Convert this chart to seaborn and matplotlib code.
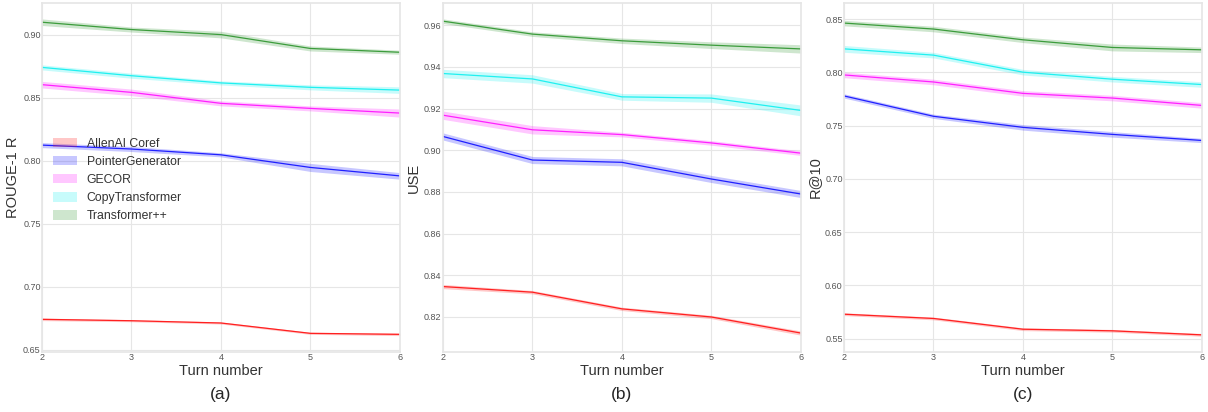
import numpy as np
import pandas as pd
import matplotlib
matplotlib.use("Agg")
import matplotlib.pyplot as plt
from matplotlib.patches import Patch
import seaborn as sns

# Données
turns = [2, 3, 4, 5, 6]
models = ["AllenAI Coref", "PointerGenerator", "GECOR", "CopyTransformer", "Transformer++"]
colors = ["#ff2020", "#2020ff", "#ff20ff", "#20f0f0", "#3c9c3c"]

# (a) ROUGE-1 R
rouge_allen = [0.6743, 0.6732, 0.6714, 0.6632, 0.6624]
rouge_pg = [0.8124, 0.8093, 0.8047, 0.7947, 0.7880]
rouge_gecor = [0.8603, 0.8542, 0.8455, 0.8415, 0.8378]
rouge_copy = [0.8740, 0.8674, 0.8617, 0.8582, 0.8560]
rouge_tpp = [0.9098, 0.9040, 0.9000, 0.8890, 0.8860]
rouge_err_allen = [0.0010, 0.0008, 0.0008, 0.0008, 0.0010]
rouge_err_pg = [0.0020, 0.0020, 0.0016, 0.0032, 0.0026]
rouge_err_gecor = [0.0026, 0.0026, 0.0020, 0.0020, 0.0032]
rouge_err_copy = [0.0020, 0.0020, 0.0016, 0.0020, 0.0026]
rouge_err_tpp = [0.0026, 0.0020, 0.0026, 0.0020, 0.0016]

# (b) USE
use_allen = [0.8346, 0.8319, 0.8239, 0.8200, 0.8123]
use_pg = [0.9066, 0.8953, 0.8942, 0.8862, 0.8790]
use_gecor = [0.9168, 0.9098, 0.9075, 0.9035, 0.8986]
use_copy = [0.9368, 0.9342, 0.9256, 0.9250, 0.9191]
use_tpp = [0.9619, 0.9557, 0.9525, 0.9504, 0.9486]
use_err_allen = [0.0010, 0.0008, 0.0008, 0.0008, 0.0010]
use_err_pg = [0.0017, 0.0017, 0.0017, 0.0017, 0.0017]
use_err_gecor = [0.0020, 0.0020, 0.0011, 0.0011, 0.0011]
use_err_copy = [0.0020, 0.0020, 0.0016, 0.0020, 0.0026]
use_err_tpp = [0.0011, 0.0011, 0.0013, 0.0016, 0.0020]

# (c) R@10
r10_allen = [0.5729, 0.5689, 0.5588, 0.5573, 0.5535]
r10_pg = [0.7778, 0.7587, 0.7483, 0.7417, 0.7360]
r10_gecor = [0.7975, 0.7909, 0.7802, 0.7758, 0.7689]
r10_copy = [0.8220, 0.8161, 0.8001, 0.7935, 0.7885]
r10_tpp = [0.8462, 0.8406, 0.8305, 0.8233, 0.8211]
r10_err_allen = [0.0013, 0.0013, 0.0013, 0.0013, 0.0013]
r10_err_pg = [0.0020, 0.0020, 0.0026, 0.0026, 0.0020]
r10_err_gecor = [0.0026, 0.0026, 0.0026, 0.0026, 0.0026]
r10_err_copy = [0.0032, 0.0026, 0.0026, 0.0026, 0.0026]
r10_err_tpp = [0.0026, 0.0026, 0.0026, 0.0032, 0.0026]

panels = [
    ("ROUGE-1 R", "(a)", [rouge_allen, rouge_pg, rouge_gecor, rouge_copy, rouge_tpp],
     [rouge_err_allen, rouge_err_pg, rouge_err_gecor, rouge_err_copy, rouge_err_tpp],
     (0.6484, 0.925), [0.65, 0.70, 0.75, 0.80, 0.85, 0.90]),
    ("USE", "(b)", [use_allen, use_pg, use_gecor, use_copy, use_tpp],
     [use_err_allen, use_err_pg, use_err_gecor, use_err_copy, use_err_tpp],
     (0.8032, 0.9706), [0.82, 0.84, 0.86, 0.88, 0.90, 0.92, 0.94, 0.96]),
    ("R@10", "(c)", [r10_allen, r10_pg, r10_gecor, r10_copy, r10_tpp],
     [r10_err_allen, r10_err_pg, r10_err_gecor, r10_err_copy, r10_err_tpp],
     (0.5374, 0.865), [0.55, 0.60, 0.65, 0.70, 0.75, 0.80, 0.85]),
]

sns.set_theme(style="whitegrid")
plt.rcParams['font.family'] = ['Liberation Sans', 'DejaVu Sans']

fig = plt.figure(figsize=(12.08, 4.12), dpi=100)
lefts = [0.0348, 0.3667, 0.6987]
width = 0.2962
bottom, height = 0.1456, 0.847

for i, (ylabel, tag, series, errs, ylim, yticks) in enumerate(panels):
    ax = fig.add_axes([lefts[i], bottom, width, height])
    rows = []
    for name, vals in zip(models, series):
        for t, v in zip(turns, vals):
            rows.append({"turn": t, "value": v, "model": name})
    df = pd.DataFrame(rows)
    sns.lineplot(data=df, x="turn", y="value", hue="model", hue_order=models,
                 palette=colors, linewidth=0.9, legend=False, ax=ax)
    for vals, err, c in zip(series, errs, colors):
        vals = np.array(vals)
        err = np.array(err)
        ax.fill_between(turns, vals - err, vals + err, color=c, alpha=0.25, linewidth=0)

    ax.set_xlim(2, 6)
    ax.set_ylim(*ylim)
    ax.set_xticks(turns)
    ax.set_yticks(yticks)
    ax.set_yticklabels([f"{t:.2f}" for t in yticks])
    ax.tick_params(axis="both", labelsize=6.5, labelcolor="#555555", pad=1, length=0)
    ax.set_xlabel("Turn number", fontsize=10.5, labelpad=1, color="#333333")
    ax.set_ylabel(ylabel, fontsize=10.5, labelpad=2, color="#333333")
    ax.grid(color="#e6e6e6", linewidth=0.8)
    for s in ax.spines.values():
        s.set_color("#e6e6e6")
    ax.text(0.5, -0.123, tag, transform=ax.transAxes, ha="center", va="center", fontsize=12.5)

    if i == 0:
        handles = [Patch(facecolor=c, alpha=0.25, edgecolor="none") for c in colors]
        ax.legend(handles, models, loc="upper left", bbox_to_anchor=(0.016, 0.628),
                  frameon=False, fontsize=8.8, handlelength=2.0, handleheight=0.8,
                  handletextpad=0.8, labelspacing=0.5, borderaxespad=0,
                  labelcolor="#333333")

fig.savefig("out.png", dpi=100)
